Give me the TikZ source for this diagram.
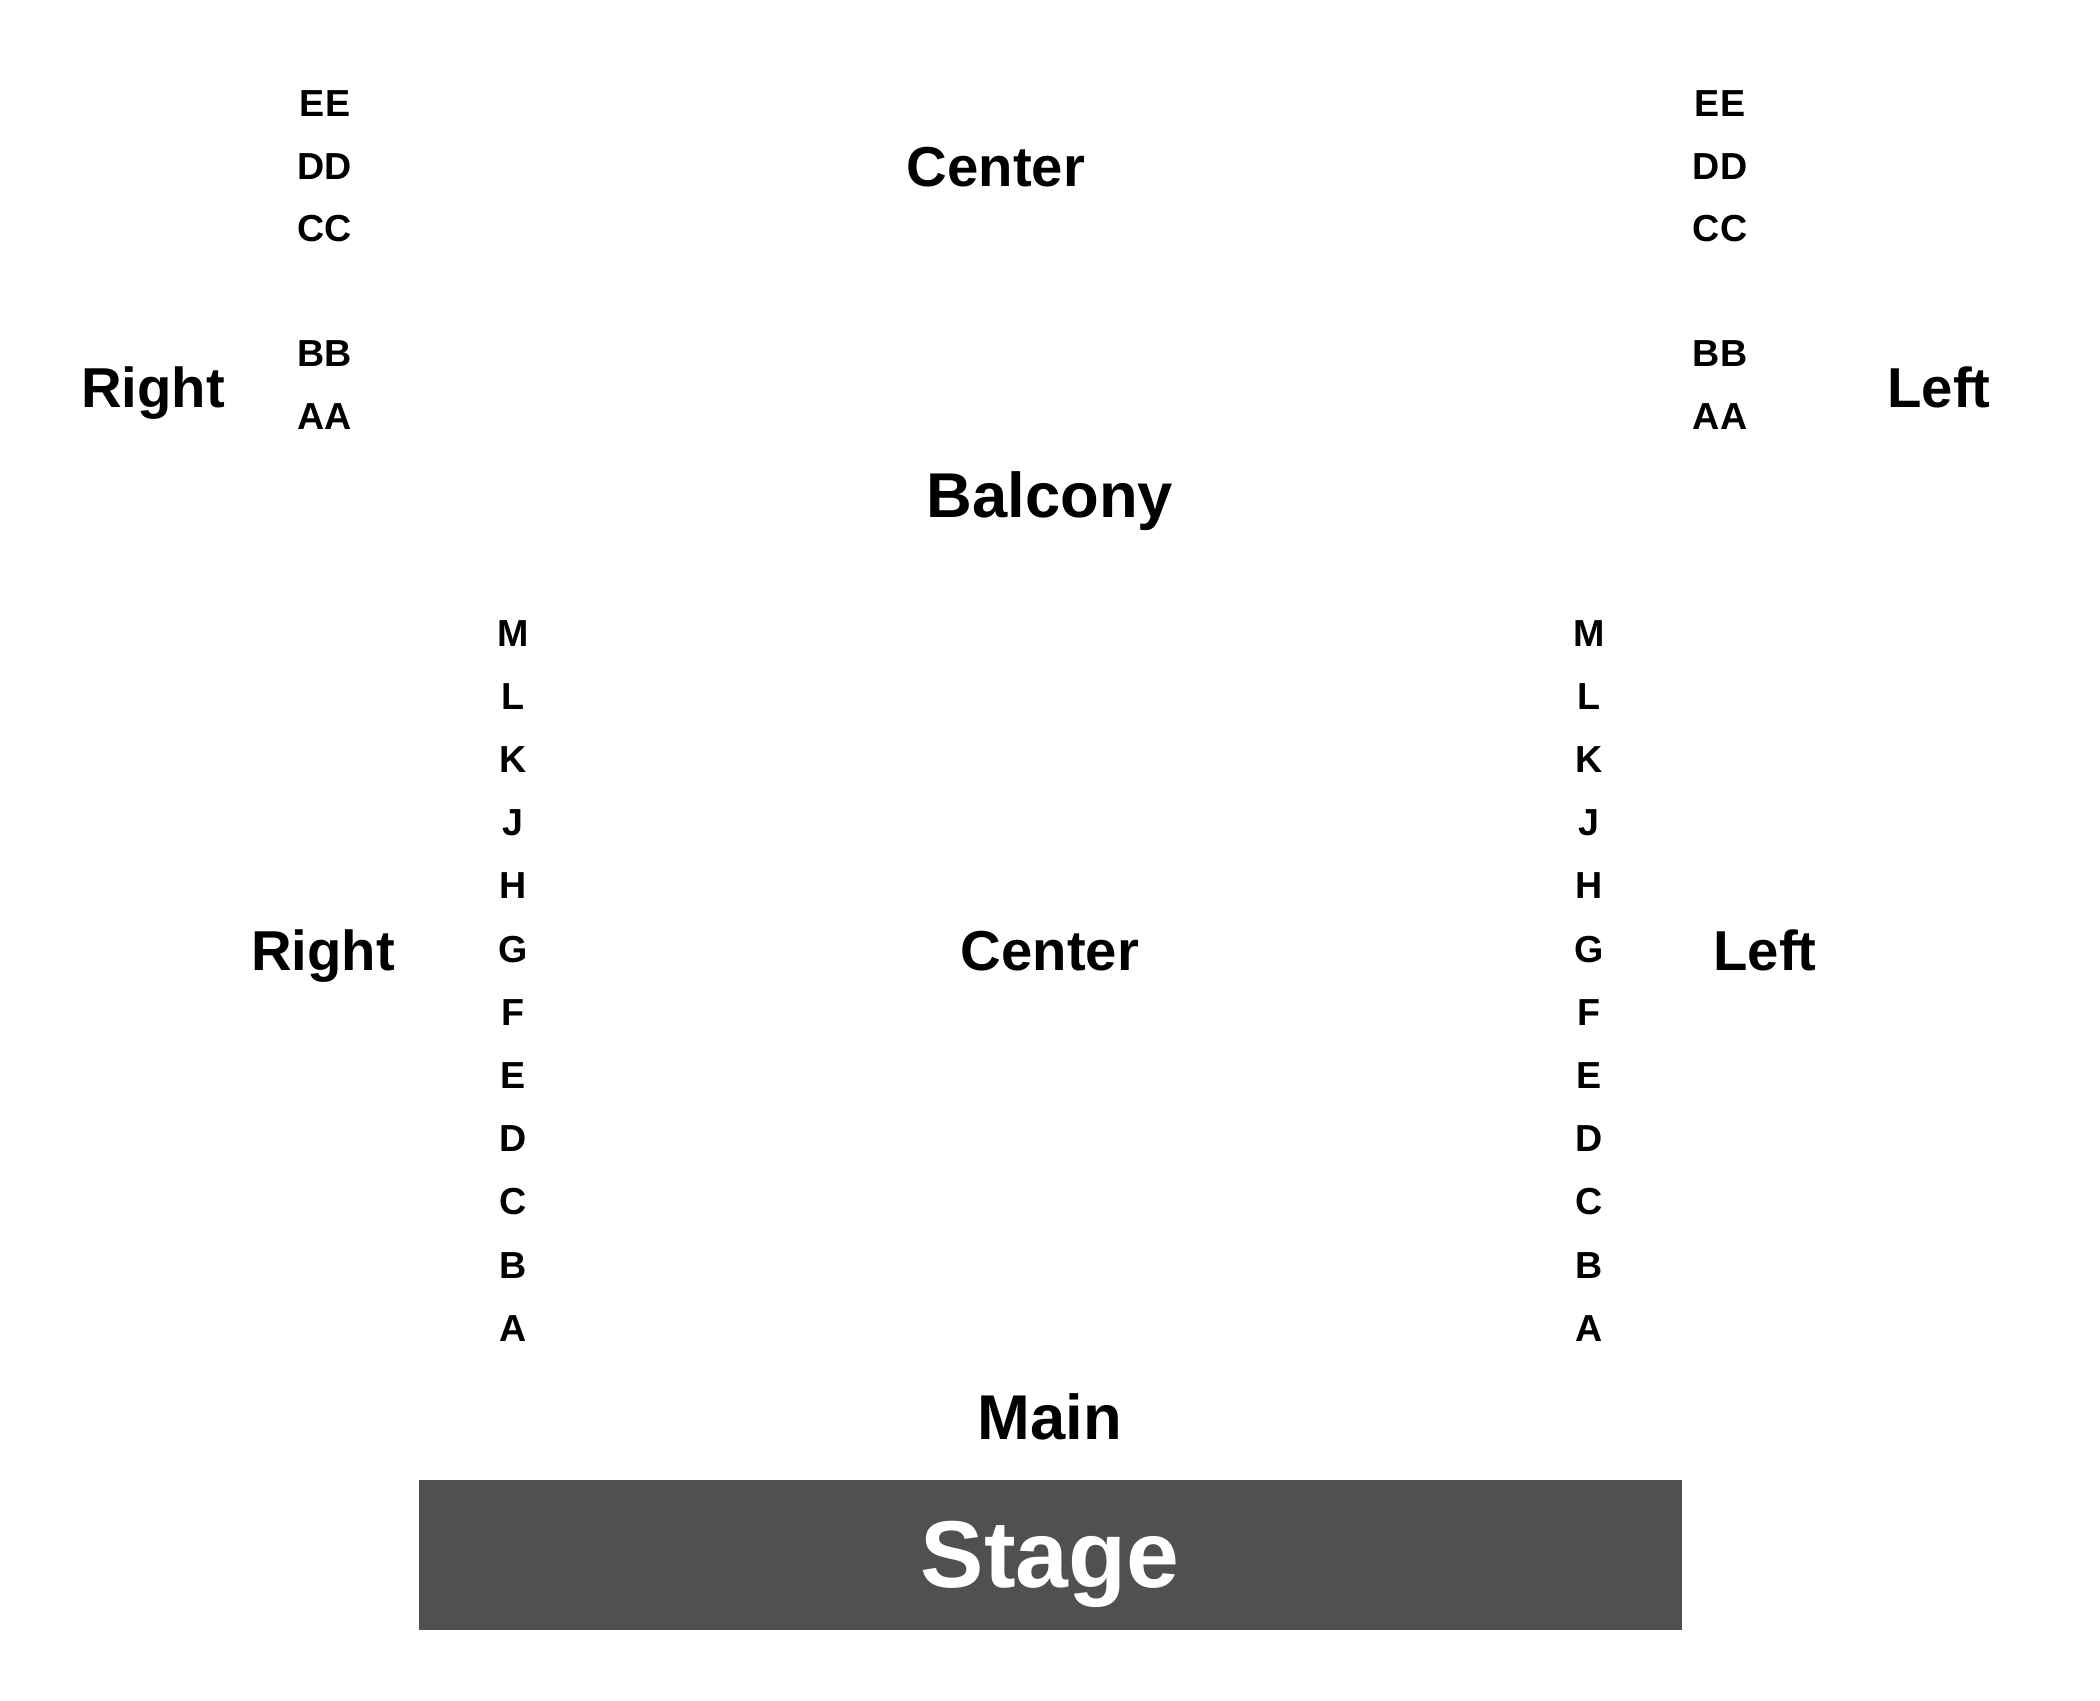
\documentclass[tikz,border=0pt]{standalone}
\usepackage{fontspec}
\setmainfont{Liberation Sans}
\usetikzlibrary{positioning}
\definecolor{stagegray}{RGB}{80, 80, 80}

\tikzset{
  rowlabel/.style={font=\bfseries\fontsize{10.7}{13}\selectfont, anchor=base, inner sep=0pt},
  sidelabel/.style={font=\bfseries\fontsize{16}{19}\selectfont, anchor=base, inner sep=0pt},
  levellabel/.style={font=\bfseries\fontsize{18}{21}\selectfont, anchor=base, inner sep=0pt},
  stagebox/.style={fill=stagegray, minimum width=12.63cm, minimum height=1.5cm, inner sep=0pt},
  stagelabel/.style={font=\bfseries\fontsize{27}{32}\selectfont, text=white, anchor=base, inner sep=0pt}
}

\begin{document}
\begin{tikzpicture}[x=0.01cm, y=-0.01cm]
            % Frame to fix the page size:
            \useasboundingbox (0,0) rectangle (2100,1700);
            % Balcony
            \foreach \row/\i in {EE/0, DD/1, CC/2, BB/4, AA/5}{
                \node[rowlabel] (balR-\row) at ( 325, 117+62.4*\i) {\row};
                \node[rowlabel] (balL-\row) at (1720, 117+62.4*\i) {\row};
            }
            \node[sidelabel]  (balRight)  at ( 153, 407) {Right};
            \node[sidelabel]  (balCenter) at ( 996, 187) {Center};
            \node[sidelabel]  (balLeft)   at (1939, 407) {Left};
            \node[levellabel] (balcony)   at (1050, 517) {Balcony};
            % Main floor
            \foreach \row [count=\i from 0] in {M,L,K,J,H,G,F,E,D,C,B,A}{
                \node[rowlabel] (mainR-\row) at ( 513, 646+63.2*\i) {\row};
                \node[rowlabel] (mainL-\row) at (1589, 646+63.2*\i) {\row};
            }
            \node[sidelabel]  (mainRight)  at ( 323, 970) {Right};
            \node[sidelabel]  (mainCenter) at (1050, 970) {Center};
            \node[sidelabel]  (mainLeft)   at (1765, 970) {Left};
            \node[levellabel] (main)       at (1050, 1439) {Main};
            % Stage
            \node[stagebox]   (stage)      at (1050.5, 1555) {};
            \node[stagelabel] (stagetext)  at (1050, 1587) {Stage};
        \end{tikzpicture}
\end{document}
